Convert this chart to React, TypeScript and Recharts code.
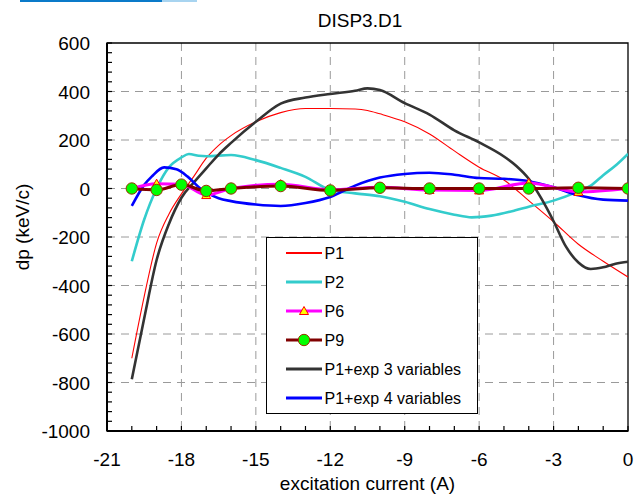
import React from 'react';
import { LineChart, Line, XAxis, YAxis, CartesianGrid, ReferenceArea, Legend } from 'recharts';

const FONT = '"Liberation Sans", Arial, Helvetica, sans-serif';

// ---- axis ticks ----
const xMajorTicks = [-21, -18, -15, -12, -9, -6, -3, 0];
const yMajorTicks = [-1000, -800, -600, -400, -200, 0, 200, 400, 600];
const xGridValues = [-18, -15, -12, -9, -6, -3];
const yGridValues = [-800, -600, -400, -200, 0, 200, 400];

// ---- series data ----
const p1X = [-20, -19.5, -19, -18.5, -18, -17.5, -17, -16.5, -16, -15, -14, -13, -12, -11, -10.5, -10, -9, -8, -7, -6, -5, -4, -3, -2, -1, 0];
const p1Y = [-700, -445, -225, -105, -22, 50, 125, 178, 218, 275, 313, 330, 330, 328, 322, 308, 275, 225, 155, 88, 35, -50, -137, -230, -300, -365];

const p2X = [-20, -19.5, -19, -18.5, -18, -17.7, -17.3, -17, -16, -15, -14, -13, -12, -11, -10, -9, -8, -7, -6.3, -5.5, -4.5, -4, -3, -2, -1.5, -1, -0.5, 0];
const p2Y = [-300, -128, 0, 88, 128, 142, 135, 133, 138, 117, 85, 48, -6, -20, -32, -55, -85, -108, -119, -112, -89, -75, -50, -12, 12, 55, 95, 143];

const markerX = [-20, -19, -18, -17, -16, -14, -12, -10, -8, -6, -4, -2, 0];
const p6Y = [0, 20, 18, -27, 0, 18, -5, 5, -6, -8, 23, -14, 0];
const p9Y = [0, -6, 16, -10, 0, 10, -8, 3, 0, 0, 0, 3, 0];

const exp3X = [-20, -19.5, -19, -18.5, -18, -17.5, -17, -16.5, -16, -15, -14, -13, -12, -11, -10.5, -10, -9, -8, -7, -6, -5, -4.5, -4, -3.5, -3, -2.5, -2, -1.5, -1, -0.5, 0];
const exp3Y = [-787, -535, -295, -145, -38, 25, 83, 140, 188, 275, 350, 375, 390, 403, 413, 406, 352, 305, 240, 190, 132, 93, 40, -40, -135, -240, -305, -332, -325, -310, -302];

const exp4X = [-20, -19.5, -19.2, -18.7, -18.2, -17.75, -17.25, -16.5, -16, -15, -14, -13, -12, -11, -10, -9, -8, -7, -6, -5, -4, -3, -2, -1, 0];
const exp4Y = [-72, 15, 49, 87, 79, 49, 1, -40, -52, -66, -72, -60, -35, 12, 45, 60, 65, 57, 43, 40, 30, 5, -28, -46, -50];

const seriesNames = ['P1', 'P2', 'P6', 'P9', 'P1+exp 3 variables', 'P1+exp 4 variables'];
const seriesColors = ['#FF0000', '#33CCCC', '#FF00FF', '#800000', '#333333', '#0000FF'];

const toPoints = (xs: number[], ys: number[]) => xs.map((x, i) => ({ x, y: ys[i] }));

const xAllTicks: number[] = [];
for (let v = -21; v <= 0; v += 1) xAllTicks.push(v);
const yAllTicks: number[] = [];
for (let v = -1000; v <= 600; v += 40) yAllTicks.push(v);

const XTick = (props: any) => {
  const { x, y, payload } = props;
  const major = xMajorTicks.includes(payload.value);
  return (
    <g>
      <line x1={x} x2={x} y1={y - 5} y2={y} stroke="#000" strokeWidth={1.2} />
      {major && (
        <text x={x} y={466} textAnchor="middle" fontFamily={FONT} fontSize={19} fill="#000">
          {payload.value}
        </text>
      )}
    </g>
  );
};

const YTick = (props: any) => {
  const { x, y, payload } = props;
  const major = yMajorTicks.includes(payload.value);
  return (
    <g>
      <line x1={x} x2={x + 5} y1={y} y2={y} stroke="#000" strokeWidth={1.2} />
      {major && (
        <text x={90} y={y + 7} textAnchor="end" fontFamily={FONT} fontSize={19} fill="#000">
          {payload.value}
        </text>
      )}
    </g>
  );
};

const Triangle = (props: any) => {
  const { cx, cy, index } = props;
  if (cx == null || cy == null) return <g key={index} />;
  return (
    <polygon
      key={index}
      points={`${cx},${cy - 4.5} ${cx + 4.5},${cy + 3.5} ${cx - 4.5},${cy + 3.5}`}
      fill="#FFFF00"
      stroke="#FF0000"
      strokeWidth={1}
    />
  );
};

const LegendBox = () => {
  const rowY = [16, 45, 74, 103, 132, 161];
  const widths = [1.8, 3, 3, 3, 3, 3];
  return (
    <svg width={212} height={177} style={{ display: 'block' }}>
      <rect x={0.5} y={0.5} width={211} height={176} fill="#FFFFFF" stroke="#000" strokeWidth={1} />
      {seriesNames.map((name, i) => (
        <g key={name}>
          <line x1={20} x2={56} y1={rowY[i]} y2={rowY[i]} stroke={seriesColors[i]} strokeWidth={widths[i]} />
          {i === 2 && (
            <polygon
              points={`38,${rowY[i] - 4.5} 42.5,${rowY[i] + 3.5} 33.5,${rowY[i] + 3.5}`}
              fill="#FFFF00"
              stroke="#FF0000"
              strokeWidth={1}
            />
          )}
          {i === 3 && <circle cx={38} cy={rowY[i]} r={5.7} fill="#00FF00" stroke="#993300" strokeWidth={1} />}
          <text x={58.5} y={rowY[i] + 5.5} fontFamily={FONT} fontSize={16} fill="#000">
            {name}
          </text>
        </g>
      ))}
    </svg>
  );
};

export default function App() {
  return (
    <div style={{ position: 'absolute', left: 0, top: 0, width: 635, height: 495, background: '#fff' }}>
      <LineChart width={635} height={495} margin={{ top: 43, right: 7, bottom: 0, left: 0 }}>
        <CartesianGrid
          stroke="#9a9a9a"
          strokeWidth={1}
          strokeDasharray="8 6"
          horizontalValues={yGridValues}
          verticalValues={xGridValues}
        />
        <XAxis
          dataKey="x"
          type="number"
          domain={[-21, 0]}
          ticks={xAllTicks}
          interval={0}
          allowDataOverflow
          tickSize={0}
          tickMargin={0}
          tickLine={false}
          axisLine={{ stroke: '#000', strokeWidth: 2 }}
          tick={<XTick />}
          height={64}
        />
        <YAxis
          type="number"
          domain={[-1000, 600]}
          ticks={yAllTicks}
          interval={0}
          allowDataOverflow
          tickSize={0}
          tickMargin={0}
          tickLine={false}
          axisLine={{ stroke: '#000', strokeWidth: 2 }}
          tick={<YTick />}
          width={107}
        />
        <ReferenceArea x1={-21} x2={0} y1={-1000} y2={600} fill="none" stroke="#000" strokeWidth={1.3} />
        <Line data={toPoints(p1X, p1Y)} dataKey="y" name={seriesNames[0]} type="monotone" stroke={seriesColors[0]} strokeWidth={1.1} dot={false} isAnimationActive={false} />
        <Line data={toPoints(p2X, p2Y)} dataKey="y" name={seriesNames[1]} type="monotone" stroke={seriesColors[1]} strokeWidth={2.6} dot={false} isAnimationActive={false} />
        <Line data={toPoints(exp3X, exp3Y)} dataKey="y" name={seriesNames[4]} type="monotone" stroke={seriesColors[4]} strokeWidth={2.6} dot={false} isAnimationActive={false} />
        <Line data={toPoints(exp4X, exp4Y)} dataKey="y" name={seriesNames[5]} type="monotone" stroke={seriesColors[5]} strokeWidth={2.6} dot={false} isAnimationActive={false} />
        <Line data={toPoints(markerX, p6Y)} dataKey="y" name={seriesNames[2]} type="monotone" stroke={seriesColors[2]} strokeWidth={3} dot={<Triangle />} isAnimationActive={false} />
        <Line data={toPoints(markerX, p9Y)} dataKey="y" name={seriesNames[3]} type="monotone" stroke={seriesColors[3]} strokeWidth={3} dot={{ r: 5.7, fill: '#00FF00', stroke: '#993300', strokeWidth: 1 }} isAnimationActive={false} />
        <Legend
          layout="vertical"
          align="center"
          verticalAlign="middle"
          wrapperStyle={{ left: 266, top: 237, width: 212, height: 177 }}
          content={() => <LegendBox />}
        />
      </LineChart>
      <svg width={635} height={495} style={{ position: 'absolute', left: 0, top: 0, pointerEvents: 'none' }}>
        <rect x={20} y={0} width={142} height={2} fill="#0A7AC9" />
        <rect x={162} y={0} width={35} height={2} fill="#A8D4F0" />
        <text x={360} y={27} textAnchor="middle" fontFamily={FONT} fontSize={19} fill="#000">DISP3.D1</text>
        <text x={367.5} y={490} textAnchor="middle" fontFamily={FONT} fontSize={19} fill="#000">excitation current (A)</text>
        <text x={22} y={227} textAnchor="middle" dominantBaseline="central" transform="rotate(-90 22 227)" fontFamily={FONT} fontSize={19} fill="#000">dp (keV/c)</text>
      </svg>
    </div>
  );
}
